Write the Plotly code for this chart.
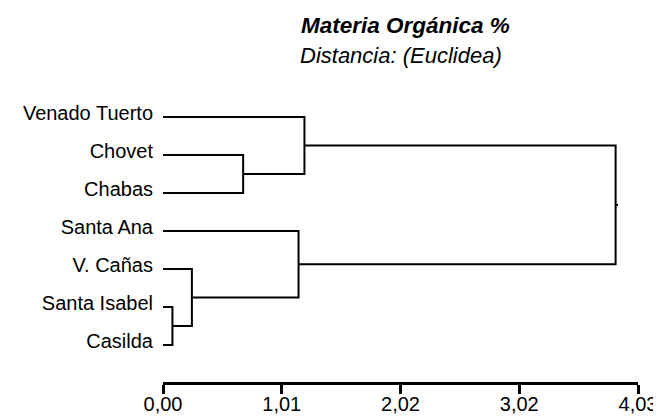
import plotly.graph_objects as go

# ---- data ----
leaf_labels = ["Venado Tuerto", "Chovet", "Chabas", "Santa Ana",
               "V. Cañas", "Santa Isabel", "Casilda"]
# linkage: (left cluster, right cluster, merge distance); leaves are 0..6, merges 7..
merge_left = [5, 4, 1, 3, 0, 10]
merge_right = [6, 7, 2, 8, 9, 11]
merge_height = [0.08, 0.245, 0.68, 1.15, 1.20, 3.84]
tick_values = [0.0, 1.0075, 2.015, 3.0225, 4.03]
tick_labels = ["0,00", "1,01", "2,02", "3,02", "4,03"]
title_text = "Materia Orgánica %"
subtitle_text = "Distancia: (Euclidea)"

# ---- build dendrogram segments ----
n = len(leaf_labels)
pos = {i: (0.0, float(i)) for i in range(n)}  # cluster -> (height, y)
xs, ys = [], []
for k, (a, b, h) in enumerate(zip(merge_left, merge_right, merge_height)):
    ha, ya = pos[a]
    hb, yb = pos[b]
    xs += [ha, h, h, hb, None]
    ys += [ya, ya, yb, yb, None]
    pos[n + k] = (h, (ya + yb) / 2)
root_h, root_y = pos[n + len(merge_height) - 1]
xs += [root_h, root_h + 0.02, None]
ys += [root_y, root_y, None]

FONT = "Liberation Sans, Arial, sans-serif"
W, H = 653, 409          # page body has an 8px margin
L, R, T, B = 155, 23, 90, 35
PW, PH = W - L - R, H - T - B

fig = go.Figure()
fig.add_trace(go.Scatter(x=xs, y=ys, mode="lines",
                         line=dict(color="black", width=2),
                         hoverinfo="skip", showlegend=False, cliponaxis=False))

fig.update_layout(
    width=W, height=H,
    margin=dict(l=L, r=R, t=T, b=B, autoexpand=False),
    paper_bgcolor="white", plot_bgcolor="white",
    font=dict(family=FONT, color="black"),
    xaxis=dict(range=[0, 4.03], tickvals=tick_values, ticktext=tick_labels,
               showgrid=False, zeroline=False, showline=True, linecolor="black",
               linewidth=3, ticks="outside", ticklen=9, tickwidth=3,
               tickcolor="black", tickfont=dict(size=20, family=FONT),
               ticklabelstandoff=-7, automargin=False),
    yaxis=dict(range=[6.97, -0.5], tickvals=list(range(n)), ticktext=leaf_labels,
               showgrid=False, zeroline=False, showline=False, ticks="",
               ticklabelstandoff=9, ticklabelshift=4,
               tickfont=dict(size=20, family=FONT), automargin=False),
    annotations=[
        dict(text="<b><i>" + title_text + "</i></b>",
             x=(397 - L) / PW, y=(H - B - 18) / PH,
             xref="paper", yref="paper", xanchor="center", yanchor="middle",
             showarrow=False, font=dict(size=22.5, family=FONT)),
        dict(text="<i>" + subtitle_text + "</i>",
             x=(392.5 - L) / PW, y=(H - B - 48) / PH,
             xref="paper", yref="paper", xanchor="center", yanchor="middle",
             showarrow=False, font=dict(size=22, family=FONT)),
    ],
)

fig.write_html("out.html")
